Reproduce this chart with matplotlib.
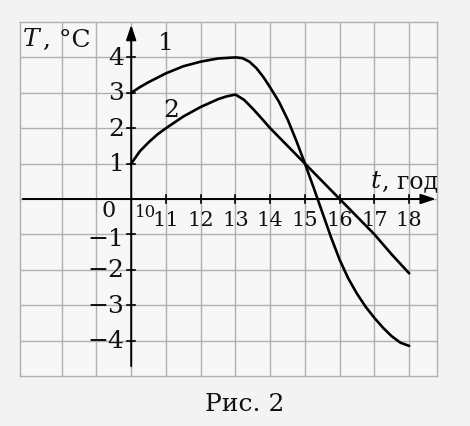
import matplotlib
matplotlib.use("Agg")
import matplotlib.pyplot as plt

# data
t1 = [10, 10.25, 10.5, 11, 11.5, 12, 12.5, 13, 13.2, 13.4, 13.6, 13.8, 14, 14.25, 14.5, 14.75,
      15, 15.25, 15.5, 15.75, 16, 16.25, 16.5, 16.75, 17, 17.25, 17.5, 17.75, 18]
T1 = [3.0, 3.16, 3.3, 3.55, 3.75, 3.88, 3.97, 4.0, 3.98, 3.88, 3.7, 3.45, 3.15, 2.75, 2.25, 1.65,
      1.0, 0.32, -0.38, -1.08, -1.72, -2.25, -2.68, -3.05, -3.36, -3.64, -3.88, -4.06, -4.15]
t2 = [10, 10.25, 10.5, 10.75, 11, 11.5, 12, 12.5, 12.75, 13, 13.25, 13.5, 13.75, 14, 14.5,
      15, 15.5, 16, 16.5, 17, 17.5, 18]
T2 = [1.0, 1.35, 1.6, 1.82, 2.0, 2.33, 2.6, 2.82, 2.9, 2.95, 2.8, 2.55, 2.28, 2.0, 1.5,
      1.0, 0.5, 0.0, -0.5, -1.0, -1.57, -2.1]
x_ticks = [10, 11, 12, 13, 14, 15, 16, 17, 18]
y_ticks = [4, 3, 2, 1, -1, -2, -3, -4]

SERIF = ['DejaVu Serif']
fig = plt.figure(figsize=(4.7, 4.27), dpi=100, facecolor='#f3f3f3')
ax = fig.add_axes([20/470, 1-377/427, 417/470, 354/427])
ax.set_facecolor('#f7f7f7')
ax.set_xlim(6.8, 18.8)
ax.set_ylim(-5, 5)
ax.set_xticks(range(8, 19))
ax.set_yticks(range(-4, 5))
ax.tick_params(length=0, labelbottom=False, labelleft=False)
ax.grid(True, color='#b0b0b0', lw=1.0)
for s in ax.spines.values():
    s.set_color('#b0b0b0')
    s.set_linewidth(1.0)

# axes with arrows
ax.annotate('', xy=(18.85, 0), xytext=(6.8, 0), annotation_clip=False,
            arrowprops=dict(arrowstyle='-|>,head_length=0.9,head_width=0.3', color='black', lw=1.4))
ax.annotate('', xy=(10, 5.0), xytext=(10, -4.8), annotation_clip=False,
            arrowprops=dict(arrowstyle='-|>,head_length=0.9,head_width=0.3', color='black', lw=1.4))
for y in y_ticks:
    ax.plot([9.88, 10.12], [y, y], color='black', lw=1.2)
for x in x_ticks[1:]:
    ax.plot([x, x], [-0.12, 0.12], color='black', lw=1.2)

ax.plot(t1, T1, color='black', lw=1.9, solid_capstyle='round', solid_joinstyle='round')
ax.plot(t2, T2, color='black', lw=1.9, solid_capstyle='round', solid_joinstyle='round')

for y in y_ticks:
    lab = str(y) if y > 0 else '\u2212' + str(-y)
    yy = y - 0.12 if y == -1 else y
    ax.text(9.8, yy, lab, ha='right', va='center', fontsize=18, family=SERIF, color='#111')
ax.text(9.55, 0.0, '0', ha='right', va='top', fontsize=16, family=SERIF, color='#111')
for x in x_ticks:
    if x == 10:
        ax.text(10.1, -0.12, '10', ha='left', va='top', fontsize=12, family=SERIF, color='#111')
    else:
        ax.text(x, -0.3, str(x), ha='center', va='top', fontsize=15, family=SERIF, color='#111')

ax.text(11.0, 4.1, '1', ha='center', va='bottom', fontsize=18, family=SERIF, color='#111')
ax.text(11.15, 2.2, '2', ha='center', va='bottom', fontsize=18, family=SERIF, color='#111')

fig.text(22/470, 1-40/427, '$T$', fontsize=18, family=SERIF, va='center', ha='left', color='#111', math_fontfamily='dejavuserif')
fig.text(43/470, 1-40/427, ', \u00b0C', fontsize=18, family=SERIF, va='center', ha='left', color='#111')
fig.text(370/470, 1-182/427, '$t$', fontsize=18, family=SERIF, va='center', ha='left', color='#111', math_fontfamily='dejavuserif')
fig.text(382/470, 1-182/427, ', год', fontsize=17, family=SERIF, va='center', ha='left', color='#111')
fig.text(245/470, 1-405/427, 'Рис. 2', fontsize=18, family=SERIF, va='center', ha='center', color='#111')

fig.savefig('out.png', dpi=100, facecolor=fig.get_facecolor())
